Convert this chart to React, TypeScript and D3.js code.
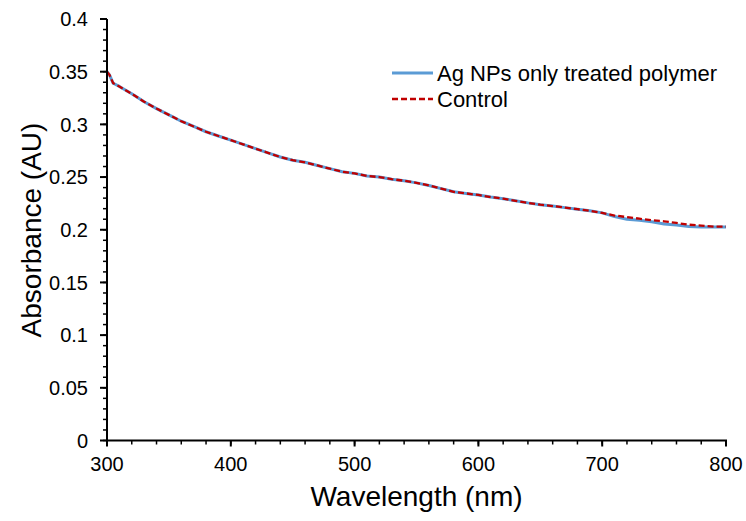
import React from "react";
import * as d3 from "d3";

const wavelengths = [300, 302, 305, 310, 320, 330, 340, 350, 360, 370, 380, 390, 400, 410, 420, 430, 440, 450, 460, 470, 480, 490, 500, 510, 520, 530, 540, 550, 560, 570, 580, 590, 600, 610, 620, 630, 640, 650, 660, 670, 680, 690, 700, 710, 720, 730, 740, 750, 760, 770, 780, 790, 800];

const agNPs = [0.35, 0.347, 0.339, 0.336, 0.329, 0.3215, 0.315, 0.309, 0.303, 0.298, 0.293, 0.289, 0.285, 0.281, 0.277, 0.273, 0.269, 0.266, 0.264, 0.261, 0.258, 0.255, 0.2535, 0.251, 0.25, 0.248, 0.2465, 0.2445, 0.242, 0.239, 0.236, 0.2345, 0.233, 0.231, 0.2295, 0.2275, 0.2255, 0.2238, 0.2225, 0.221, 0.2195, 0.218, 0.216, 0.2125, 0.21, 0.209, 0.2075, 0.2055, 0.2045, 0.203, 0.2025, 0.2025, 0.2025];

const control = [0.35, 0.347, 0.339, 0.336, 0.329, 0.3215, 0.315, 0.309, 0.303, 0.298, 0.293, 0.289, 0.285, 0.281, 0.277, 0.273, 0.269, 0.266, 0.264, 0.261, 0.258, 0.255, 0.2535, 0.251, 0.25, 0.248, 0.2465, 0.2445, 0.242, 0.239, 0.236, 0.2345, 0.233, 0.231, 0.2295, 0.2275, 0.2255, 0.2238, 0.2225, 0.221, 0.2195, 0.218, 0.216, 0.2135, 0.212, 0.2105, 0.209, 0.208, 0.2065, 0.2048, 0.204, 0.203, 0.203];

const seriesNames = ["Ag NPs only treated polymer", "Control"];
const xTicks = [300, 400, 500, 600, 700, 800];
const yTicks = [0, 0.05, 0.1, 0.15, 0.2, 0.25, 0.3, 0.35, 0.4];
const yTickLabels = ["0", "0.05", "0.1", "0.15", "0.2", "0.25", "0.3", "0.35", "0.4"];

const FONT = "'Liberation Sans', Arial, sans-serif";

export default function App() {
  const W = 746, H = 521;
  const x = d3.scaleLinear().domain([300, 800]).range([107, 726]);
  const y = d3.scaleLinear().domain([0, 0.4]).range([440.5, 19]);

  const line = d3.line<number>()
    .x((_, i) => x(wavelengths[i]))
    .y((d) => y(d));

  const xMinor = d3.range(300, 800.1, 20);
  const yMinor = d3.range(0, 0.4001, 0.01);

  return (
    <svg width={W} height={H} style={{ position: "absolute", left: 0, top: 0, background: "#fff" }} fontFamily={FONT}>
      <rect x={0} y={0} width={W} height={H} fill="#fff" />
      {/* data lines */}
      <path d={line(agNPs) || ""} fill="none" stroke="#5B9BD5" strokeWidth={3} strokeLinejoin="round" />
      <path d={line(control) || ""} fill="none" stroke="#C00000" strokeWidth={2.3} strokeDasharray="6,3" />

      {/* y axis */}
      <line x1={x(300)} x2={x(300)} y1={y(0) + 1} y2={y(0.4)} stroke="#000" strokeWidth={2} />
      {yMinor.map((v, i) => (
        <line key={"ym" + i} x1={x(300) - 4} x2={x(300)} y1={y(v)} y2={y(v)} stroke="#000" strokeWidth={1.5} />
      ))}
      {yTicks.map((v, i) => (
        <g key={"yt" + i}>
          <line x1={x(300) - 7} x2={x(300)} y1={y(v)} y2={y(v)} stroke="#000" strokeWidth={2} />
          <text x={88} y={y(v)} dy="0.36em" textAnchor="end" fontSize={20} fill="#000">{yTickLabels[i]}</text>
        </g>
      ))}

      {/* x axis */}
      <line x1={x(300) - 1} x2={x(800) + 1} y1={y(0)} y2={y(0)} stroke="#000" strokeWidth={2} />
      {xMinor.map((v, i) => (
        <line key={"xm" + i} x1={x(v)} x2={x(v)} y1={y(0)} y2={y(0) + 4} stroke="#000" strokeWidth={1.5} />
      ))}
      {xTicks.map((v, i) => (
        <g key={"xt" + i}>
          <line x1={x(v)} x2={x(v)} y1={y(0)} y2={y(0) + 6} stroke="#000" strokeWidth={2} />
          <text x={x(v)} y={471} textAnchor="middle" fontSize={20} fill="#000">{v}</text>
        </g>
      ))}

      {/* axis titles */}
      <text x={(x(300) + x(800)) / 2} y={506} textAnchor="middle" fontSize={28} fill="#000">Wavelength (nm)</text>
      <text transform={`translate(41, 230) rotate(-90)`} textAnchor="middle" fontSize={28} fill="#000">Absorbance (AU)</text>

      {/* legend */}
      <line x1={392} x2={433} y1={73} y2={73} stroke="#5B9BD5" strokeWidth={3} />
      <text x={437} y={73} dy="0.36em" fontSize={22} fill="#000">{seriesNames[0]}</text>
      <line x1={392} x2={433} y1={99} y2={99} stroke="#C00000" strokeWidth={2.3} strokeDasharray="6,3" />
      <text x={437} y={99} dy="0.36em" fontSize={22} fill="#000">{seriesNames[1]}</text>
    </svg>
  );
}
